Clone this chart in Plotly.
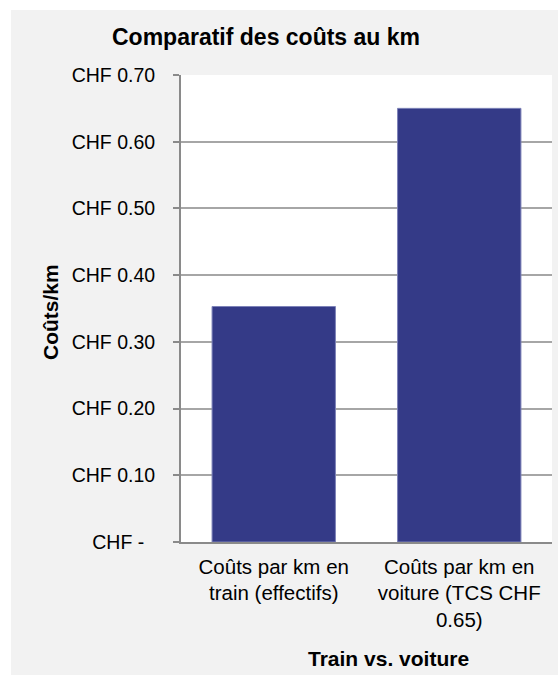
import plotly.graph_objects as go

# Data
categories = [
    "Coûts par km en<br>train (effectifs)",
    "Coûts par km en<br>voiture (TCS CHF<br>0.65)",
]
cost_per_km = [0.353, 0.65]
tick_values = [0.0, 0.1, 0.2, 0.3, 0.4, 0.5, 0.6, 0.7]
tick_labels = ["CHF -\u00a0\u00a0", "CHF 0.10", "CHF 0.20", "CHF 0.30",
               "CHF 0.40", "CHF 0.50", "CHF 0.60", "CHF 0.70"]

W, H = 558, 675
ML, MR, MT, MB = 181, 6, 75, 133
PW, PH = W - ML - MR, H - MT - MB


def px_x(x):
    return (x - ML) / PW


def px_y(y):
    return (H - MB - y) / PH


FONT = "Liberation Sans, Arial, sans-serif"
GRID = "#a6a6a6"
AXIS = "#8a8a8a"

fig = go.Figure(
    go.Bar(
        x=categories,
        y=cost_per_km,
        marker=dict(color="#343a87", line=dict(color="#7d82b8", width=1)),
        width=0.665,
        hoverinfo="skip",
    )
)

fig.update_layout(
    width=W,
    height=H,
    margin=dict(l=ML, r=MR, t=MT, b=MB, pad=0),
    paper_bgcolor="#f2f2f2",
    plot_bgcolor="#ffffff",
    showlegend=False,
    font=dict(family=FONT, color="#000000"),
    xaxis=dict(
        showgrid=False,
        showline=True,
        linecolor=AXIS,
        linewidth=2,
        ticks="",
        tickfont=dict(size=20.5, family=FONT),
        ticklabelstandoff=5,
        fixedrange=True,
    ),
    yaxis=dict(
        range=[0, 0.7],
        tickvals=tick_values,
        ticktext=tick_labels,
        tickfont=dict(size=19.5, family=FONT),
        showgrid=True,
        gridcolor=GRID,
        gridwidth=1.5,
        showline=True,
        linecolor=AXIS,
        linewidth=2,
        ticks="outside",
        ticklen=6,
        tickcolor=AXIS,
        tickwidth=1.5,
        ticklabelstandoff=14,
        zeroline=False,
        fixedrange=True,
    ),
    shapes=[
        # white strips framing the grey chart panel
        dict(type="rect", xref="paper", yref="paper", layer="below",
             x0=px_x(-5), x1=px_x(11), y0=px_y(H + 5), y1=px_y(-5),
             fillcolor="#ffffff", line=dict(width=0)),
        dict(type="rect", xref="paper", yref="paper", layer="below",
             x0=px_x(-5), x1=px_x(W + 5), y0=px_y(10), y1=px_y(-5),
             fillcolor="#ffffff", line=dict(width=0)),
    ],
    annotations=[
        dict(text="<b>Comparatif des coûts au km</b>", xref="paper", yref="paper",
             x=px_x(265.5), y=px_y(37), xanchor="center", yanchor="middle",
             showarrow=False, font=dict(size=23, family=FONT)),
        dict(text="<b>Coûts/km</b>", xref="paper", yref="paper",
             x=px_x(50), y=px_y(312), xanchor="center", yanchor="middle",
             textangle=-90, showarrow=False, font=dict(size=21, family=FONT)),
        dict(text="<b>Train vs. voiture</b>", xref="paper", yref="paper",
             x=px_x(388.5), y=px_y(658), xanchor="center", yanchor="middle",
             showarrow=False, font=dict(size=21, family=FONT)),
    ],
)

fig.write_html("out.html")
